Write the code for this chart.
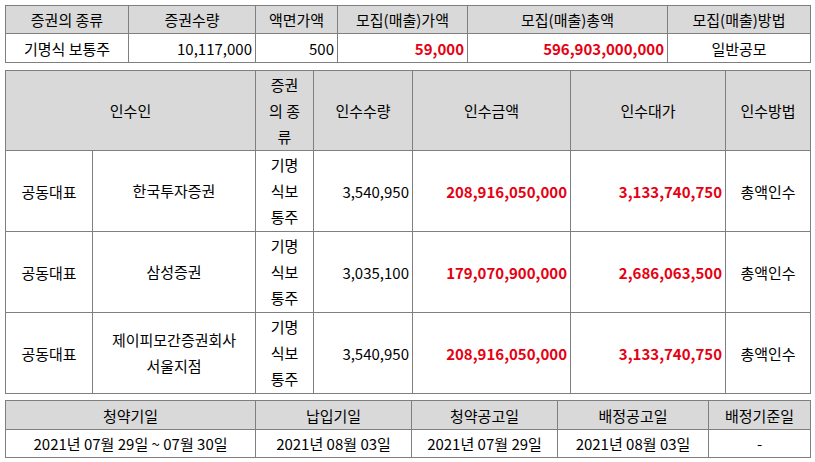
<!DOCTYPE html>
<html><head><meta charset="utf-8">
<script src="https://cdn.jsdelivr.net/npm/chart.js@4"></script>
<style>
body{margin:0;background:#fff;font-family:"Noto Sans CJK KR",sans-serif;font-size:15px;color:#000}
table{position:absolute;border-collapse:collapse;table-layout:fixed;border:1.5px solid #000}
td,th{border:1px solid #7f7f7f;padding:0 3px;font-weight:normal;text-align:center;white-space:nowrap;line-height:25px}
th{background:#d9d9d9}
.r{text-align:right}
.red{color:#e60012;font-weight:bold;font-size:15px}
.w{white-space:normal;line-height:26px}
</style></head><body>
<table id="t1" style="left:5px;top:5px;width:805px"></table>
<table id="t2" style="left:5px;top:70px;width:805px"></table>
<table id="t3" style="left:5px;top:400px;width:805px"></table>
<script>
// 공모 개요
const head1 = ["증권의 종류", "증권수량", "액면가액", "모집(매출)가액", "모집(매출)총액", "모집(매출)방법"];
const row1 = ["기명식 보통주", "10,117,000", "500", "59,000", "596,903,000,000", "일반공모"];
const w1 = [123, 127, 82, 130, 200, 143];

// 인수인
const head2 = ["인수인", "증권<br>의 종<br>류", "인수수량", "인수금액", "인수대가", "인수방법"];
const w2 = [87, 163, 58, 99, 158, 155, 85];
const roles = ["공동대표", "공동대표", "공동대표"];
const firms = ["한국투자증권", "삼성증권", "제이피모간증권회사<br>서울지점"];
const qty = ["3,540,950", "3,035,100", "3,540,950"];
const amount = ["208,916,050,000", "179,070,900,000", "208,916,050,000"];
const fee = ["3,133,740,750", "2,686,063,500", "3,133,740,750"];
const method = ["총액인수", "총액인수", "총액인수"];

// 일정
const head3 = ["청약기일", "납입기일", "청약공고일", "배정공고일", "배정기준일"];
const row3 = ["2021년 07월 29일 ~ 07월 30일", "2021년 08월 03일", "2021년 07월 29일", "2021년 08월 03일", "-"];
const w3 = [250, 156, 146, 151, 102];

const cols = w => "<colgroup>" + w.map(x => `<col style="width:${x}px">`).join("") + "</colgroup>";

document.getElementById("t1").innerHTML = cols(w1) +
  `<tr style="height:28px">${head1.map(h => `<th>${h}</th>`).join("")}</tr>` +
  `<tr style="height:29px"><td>${row1[0]}</td><td class="r">${row1[1]}</td><td class="r">${row1[2]}</td>` +
  `<td class="r red">${row1[3]}</td><td class="r red">${row1[4]}</td><td>${row1[5]}</td></tr>`;

let h2 = cols(w2) + `<tr style="height:80px"><th colspan="2">${head2[0]}</th>` +
  head2.slice(1).map((h, i) => `<th class="${i == 0 ? 'w' : ''}">${h}</th>`).join("") + "</tr>";
roles.forEach((r, i) => {
  h2 += `<tr style="height:81px"><td>${r}</td><td class="w">${firms[i]}</td><td class="w">기명<br>식보<br>통주</td>` +
    `<td class="r">${qty[i]}</td><td class="r red">${amount[i]}</td><td class="r red">${fee[i]}</td><td>${method[i]}</td></tr>`;
});
document.getElementById("t2").innerHTML = h2;

document.getElementById("t3").innerHTML = cols(w3) +
  `<tr style="height:29px">${head3.map(h => `<th>${h}</th>`).join("")}</tr>` +
  `<tr style="height:28px">${row3.map(v => `<td>${v}</td>`).join("")}</tr>`;
</script>
</body></html>
